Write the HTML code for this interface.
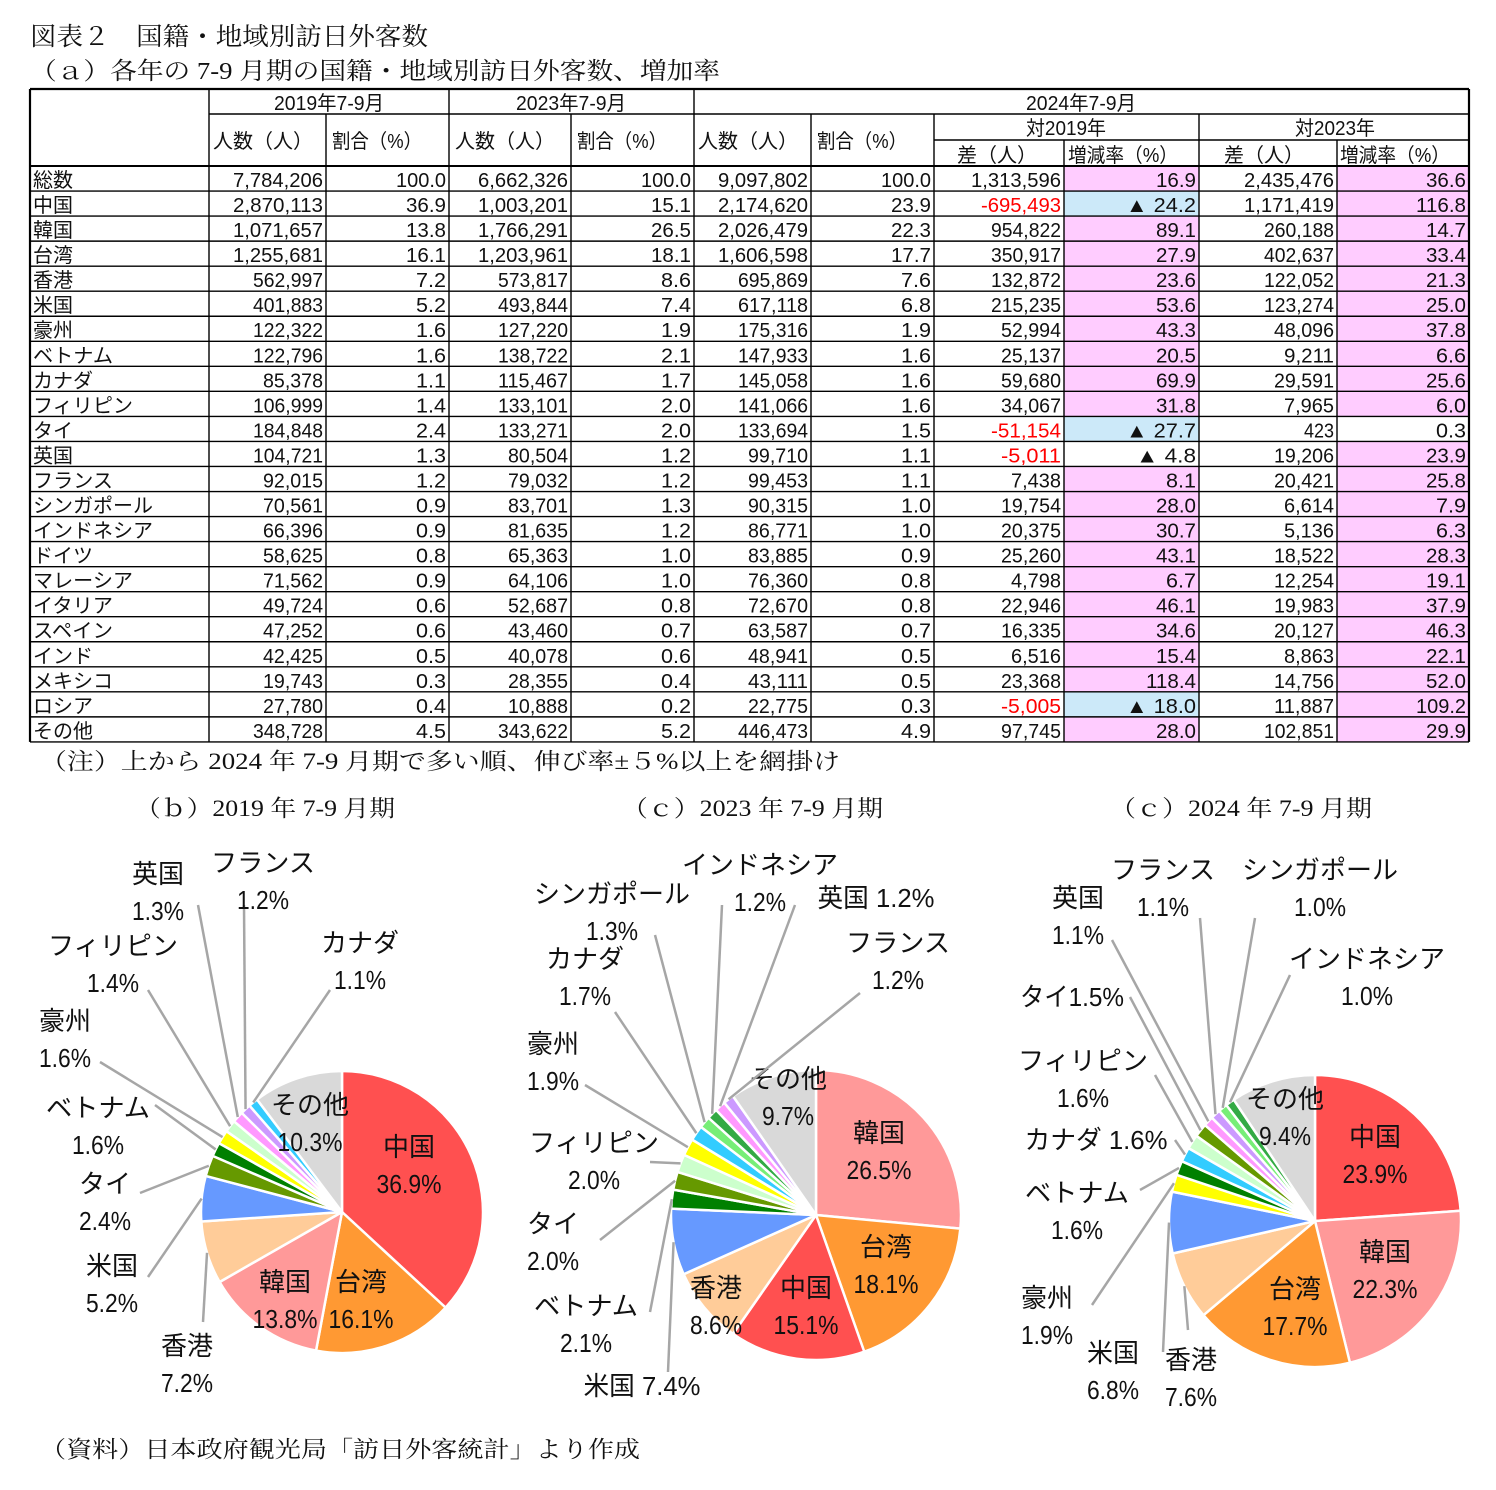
<!DOCTYPE html>
<html><head><meta charset="utf-8">
<style>
html,body{margin:0;padding:0;background:#fff;}
body{width:1496px;height:1490px;position:relative;overflow:hidden;}
svg text{font-family:"Liberation Sans","Noto Sans CJK JP",sans-serif;}
svg text.serif{font-family:"Liberation Serif","Noto Serif CJK SC",serif;}
</style></head>
<body>
<svg id="titles" width="1496" height="1490" style="position:absolute;left:0;top:0;">
<text class="serif" x="30" y="45" font-size="25" textLength="398" lengthAdjust="spacingAndGlyphs" fill="#111">図表２　国籍・地域別訪日外客数</text>
<text class="serif" x="30" y="79" font-size="24" textLength="690" lengthAdjust="spacingAndGlyphs" fill="#111">（ａ）各年の 7-9 月期の国籍・地域別訪日外客数、増加率</text>
<text class="serif" x="40" y="769" font-size="23" textLength="800" lengthAdjust="spacingAndGlyphs" fill="#111">（注）上から 2024 年 7-9 月期で多い順、伸び率±５%以上を網掛け</text>
<text class="serif" x="135" y="816" font-size="23" textLength="260" lengthAdjust="spacingAndGlyphs" fill="#111">（ｂ）2019 年 7-9 月期</text>
<text class="serif" x="622" y="816" font-size="23" textLength="261" lengthAdjust="spacingAndGlyphs" fill="#111">（ｃ）2023 年 7-9 月期</text>
<text class="serif" x="1110" y="816" font-size="23" textLength="262" lengthAdjust="spacingAndGlyphs" fill="#111">（ｃ）2024 年 7-9 月期</text>
<text class="serif" x="40" y="1457" font-size="23" textLength="600" lengthAdjust="spacingAndGlyphs" fill="#111">（資料）日本政府観光局「訪日外客統計」より作成</text>
</svg>
<svg id="tbl" width="1496" height="760" style="position:absolute;left:0;top:0;"></svg>
<svg id="pies" width="1496" height="1490" style="position:absolute;left:0;top:0;"></svg>

<script>
const countries=["総数","中国","韓国","台湾","香港","米国","豪州","ベトナム","カナダ","フィリピン","タイ","英国","フランス","シンガポール","インドネシア","ドイツ","マレーシア","イタリア","スペイン","インド","メキシコ","ロシア","その他"];
const people2019=[7784206,2870113,1071657,1255681,562997,401883,122322,122796,85378,106999,184848,104721,92015,70561,66396,58625,71562,49724,47252,42425,19743,27780,348728];
const share2019=[100.0,36.9,13.8,16.1,7.2,5.2,1.6,1.6,1.1,1.4,2.4,1.3,1.2,0.9,0.9,0.8,0.9,0.6,0.6,0.5,0.3,0.4,4.5];
const people2023=[6662326,1003201,1766291,1203961,573817,493844,127220,138722,115467,133101,133271,80504,79032,83701,81635,65363,64106,52687,43460,40078,28355,10888,343622];
const share2023=[100.0,15.1,26.5,18.1,8.6,7.4,1.9,2.1,1.7,2.0,2.0,1.2,1.2,1.3,1.2,1.0,1.0,0.8,0.7,0.6,0.4,0.2,5.2];
const people2024=[9097802,2174620,2026479,1606598,695869,617118,175316,147933,145058,141066,133694,99710,99453,90315,86771,83885,76360,72670,63587,48941,43111,22775,446473];
const share2024=[100.0,23.9,22.3,17.7,7.6,6.8,1.9,1.6,1.6,1.6,1.5,1.1,1.1,1.0,1.0,0.9,0.8,0.8,0.7,0.5,0.5,0.3,4.9];
const diffVs2019=[1313596,-695493,954822,350917,132872,215235,52994,25137,59680,34067,-51154,-5011,7438,19754,20375,25260,4798,22946,16335,6516,23368,-5005,97745];
const rateVs2019=[16.9,-24.2,89.1,27.9,23.6,53.6,43.3,20.5,69.9,31.8,-27.7,-4.8,8.1,28.0,30.7,43.1,6.7,46.1,34.6,15.4,118.4,-18.0,28.0];
const diffVs2023=[2435476,1171419,260188,402637,122052,123274,48096,9211,29591,7965,423,19206,20421,6614,5136,18522,12254,19983,20127,8863,14756,11887,102851];
const rateVs2023=[36.6,116.8,14.7,33.4,21.3,25.0,37.8,6.6,25.6,6.0,0.3,23.9,25.8,7.9,6.3,28.3,19.1,37.9,46.3,22.1,52.0,109.2,29.9];

const pie2019Labels=["中国","台湾","韓国","香港","米国","タイ","ベトナム","豪州","フィリピン","英国","フランス","カナダ","その他"];
const pie2019Values=[36.9,16.1,13.8,7.2,5.2,2.4,1.6,1.6,1.4,1.3,1.2,1.1,10.3];
const pie2023Labels=["韓国","台湾","中国","香港","米国","ベトナム","タイ","フィリピン","豪州","カナダ","シンガポール","インドネシア","英国","フランス","その他"];
const pie2023Values=[26.5,18.1,15.1,8.6,7.4,2.1,2.0,2.0,1.9,1.7,1.3,1.2,1.2,1.2,9.7];
const pie2024Labels=["中国","韓国","台湾","香港","米国","豪州","ベトナム","カナダ","フィリピン","タイ","英国","フランス","シンガポール","インドネシア","その他"];
const pie2024Values=[23.9,22.3,17.7,7.6,6.8,1.9,1.6,1.6,1.6,1.5,1.1,1.1,1.0,1.0,9.4];

const NS="http://www.w3.org/2000/svg";
const colX=[30,209,326,449,571,694,811,934,1064,1199,1337,1469];
const rowTop=166, rowH=25.04;
const tbl=document.getElementById('tbl');
function mk(p,tag,attrs){const e=document.createElementNS(NS,tag);for(const k in attrs)e.setAttribute(k,attrs[k]);p.appendChild(e);return e;}
function tw(s,fs){let w=0;for(const c of s){w+=(c.charCodeAt(0)<256)?fs*0.5:fs;}return w;}
function txt(p,s,x,y,anchor,fs,fill,name){
  const e=mk(p,'text',{x:x,y:y,'text-anchor':anchor,'font-size':fs,fill:fill||'#111',textLength:tw(s,fs),lengthAdjust:'spacingAndGlyphs'});
  e.textContent=s;
  
  
  return e;}
function fmt(n){return n.toLocaleString('en-US');}
function fmtR(v){return v<0?'▲ '+Math.abs(v).toFixed(1):v.toFixed(1);}

countries.forEach((c,i)=>{
  const y=rowTop+i*rowH;
  const r1=rateVs2019[i], r2=rateVs2023[i];
  if(Math.abs(r1)>=5){const b=mk(tbl,'rect',{x:colX[8],y:y,width:colX[9]-colX[8],height:rowH,fill:r1<0?'#cce9f9':'#ffccff'});
    
    }
  if(Math.abs(r2)>=5){const b=mk(tbl,'rect',{x:colX[10],y:y,width:colX[11]-colX[10],height:rowH,fill:r2<0?'#cce9f9':'#ffccff'});
    
    }
});
function ln(x1,y1,x2,y2,w){mk(tbl,'line',{x1:x1,y1:y1,x2:x2,y2:y2,stroke:'#000','stroke-width':w});}
const bottom=rowTop+countries.length*rowH;
for(let i=0;i<=countries.length;i++){const y=rowTop+i*rowH;ln(30,y,1469,y,i==0?2:1.4);}
ln(30,89,1469,89,2.2);
ln(209,114,1469,114,1.4);
ln(934,140,1469,140,1.4);
colX.forEach((x,j)=>{
  let y0=89;
  if([2,4,6,7,9].includes(j))y0=114;
  if(j==8||j==10)y0=140;
  ln(x,y0,x,bottom,(j==0||j==11)?2.2:1.4);
});
const fs=20;
txt(tbl,'2019年7-9月',329,110,'middle',fs,'#111','header-2019');
txt(tbl,'2023年7-9月',571,110,'middle',fs,'#111','header-2023');
txt(tbl,'2024年7-9月',1081,110,'middle',fs,'#111','header-2024');
[[213,'人数（人）'],[332,'割合（%）'],[455,'人数（人）'],[577,'割合（%）'],[698,'人数（人）'],[817,'割合（%）']].forEach(a=>txt(tbl,a[1],a[0],148,'start',fs,'#111','col-header'));
txt(tbl,'対2019年',1066,135,'middle',fs,'#111','header-vs-2019');
txt(tbl,'対2023年',1335,135,'middle',fs,'#111','header-vs-2023');
[[957,'差（人）'],[1068,'増減率（%）'],[1224,'差（人）'],[1340,'増減率（%）']].forEach(a=>txt(tbl,a[1],a[0],162,'start',fs,'#111','sub-header'));
countries.forEach((c,i)=>{
  const y=rowTop+i*rowH+21;
  txt(tbl,c,33,y,'start',fs,'#111','row-label');
  const vals=[fmt(people2019[i]),share2019[i].toFixed(1),fmt(people2023[i]),share2023[i].toFixed(1),fmt(people2024[i]),share2024[i].toFixed(1),fmt(diffVs2019[i]),fmtR(rateVs2019[i]),fmt(diffVs2023[i]),rateVs2023[i].toFixed(1)];
  vals.forEach((v,j)=>{
    const col=(j==6&&diffVs2019[i]<0)?'#ff0000':'#111';
    txt(tbl,v,colX[j+2]-3,y,'end',fs,col,'cell-value');
  });
});

const colorMap={"中国":"#ff5050","韓国":"#ff9999","台湾":"#ff9933","香港":"#ffcc99","米国":"#6699ff","タイ":"#669900","ベトナム":"#008000","豪州":"#ffff00","フィリピン":"#ccffcc","英国":"#ff99ff","フランス":"#cc99ff","カナダ":"#33ccff","シンガポール":"#77ee77","インドネシア":"#33aa44","その他":"#d9d9d9"};
const pies=document.getElementById('pies');
const layout2019=[
 ["中国",409,1146,1],["台湾",361,1281,1],["韓国",285,1281,1],["その他",310,1104,1],
 ["英国",158,873,0,198,905],["フランス",263,862,0,244,905],["カナダ",360,942,0,330,990],
 ["フィリピン",113,945,0,148,990],["豪州",65,1020,0,100,1062],["ベトナム",98,1107,0,155,1105],
 ["タイ",105,1183,0,140,1193],["米国",112,1265,0,148,1277],["香港",187,1345,0,203,1322]];
const layout2023=[
 ["韓国",879,1132,1],["台湾",886,1246,1],["中国",806,1287,1],["香港",716,1287,1],["その他",788,1078,1],
 ["インドネシア",760,864,0,722,905],["シンガポール",612,893,0,655,935],["英国",876,897,2,795,905],
 ["フランス",898,942,0,860,993],["カナダ",585,958,0,615,1012],["豪州",553,1043,0,585,1085],
 ["フィリピン",594,1142,0,650,1162],["タイ",553,1223,0,600,1240],["ベトナム",586,1305,0,650,1312],["米国",642,1385,2,668,1372]];
const layout2024=[
 ["中国",1375,1136,1],["韓国",1385,1251,1],["台湾",1295,1288,1],["その他",1285,1098,1],
 ["フランス",1163,869,0,1200,918],["シンガポール",1320,869,0,1255,918],["英国",1078,897,0,1112,940],
 ["インドネシア",1367,958,0,1290,975],["タイ",1072,996,3,1130,997],["フィリピン",1083,1060,0,1155,1075],
 ["カナダ",1096,1139,2,1175,1140],["ベトナム",1077,1192,0,1140,1190],["豪州",1047,1297,0,1092,1305],
 ["米国",1113,1352,0,1163,1352],["香港",1191,1359,0,1188,1330]];

function drawPie(labels,values,cx,cy,r,layout,tag){
  const g=mk(pies,'g',{});
  
  
  const total=values.reduce((a,b)=>a+b,0);
  let a0=0; const mids={};
  values.forEach((v,i)=>{
    const a1=a0+v/total*Math.PI*2;
    const x0=cx+r*Math.sin(a0),y0=cy-r*Math.cos(a0),x1=cx+r*Math.sin(a1),y1=cy-r*Math.cos(a1);
    const large=(a1-a0)>Math.PI?1:0;
    const p=mk(g,'path',{d:`M${cx},${cy} L${x0},${y0} A${r},${r} 0 ${large} 1 ${x1},${y1} Z`,fill:colorMap[labels[i]]||'#ccc',stroke:'#fff','stroke-width':2.5,'stroke-linejoin':'round'});
    
    
    mids[labels[i]]={a:(a0+a1)/2,v:v};
    a0=a1;
  });
  const lfs=26;
  layout.forEach(L=>{
    const name=L[0],m=mids[name]; if(!m)return;
    const pct=m.v.toFixed(1)+'%';
    if(L[3]!==1){
      const ex=cx+r*Math.sin(m.a),ey=cy-r*Math.cos(m.a);
      const l=mk(g,'line',{x1:L[4],y1:L[5],x2:ex,y2:ey,stroke:'#a6a6a6','stroke-width':2.5});
      
      
    }
    if(L[3]===2){
      txt(g,name+' '+pct,L[1],L[2]+10,'middle',lfs,'#111','pie-label');
    }else if(L[3]===3){
      txt(g,name+pct,L[1],L[2]+10,'middle',lfs,'#111','pie-label');
    }else{
      txt(g,name,L[1],L[2]+10,'middle',lfs,'#111','pie-label');
      txt(g,pct,L[1],L[2]+47,'middle',lfs,'#111','pie-value');
    }
  });
}
drawPie(pie2019Labels,pie2019Values,342,1212,141,layout2019,'2019');
drawPie(pie2023Labels,pie2023Values,816,1215,145,layout2023,'2023');
drawPie(pie2024Labels,pie2024Values,1315,1221,146,layout2024,'2024');
</script>
</body></html>
